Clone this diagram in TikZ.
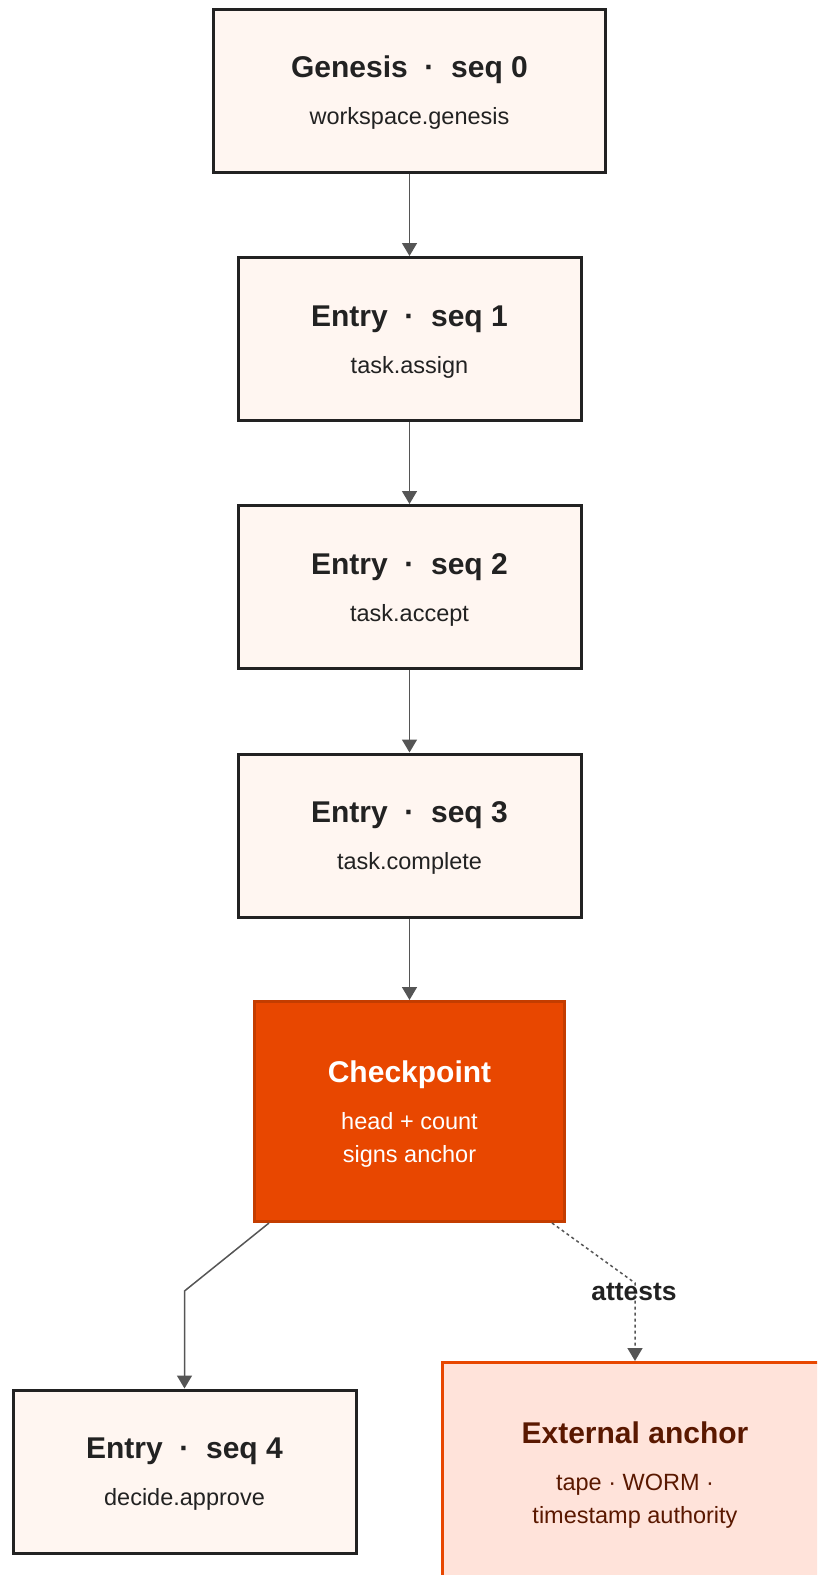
\documentclass[tikz,border=0pt]{standalone}
\usepackage{fontspec}
\setmainfont{Liberation Sans}
\usetikzlibrary{arrows.meta}
\definecolor{cream}{HTML}{FFF6F1}
\definecolor{boxline}{HTML}{222222}
\definecolor{txt}{HTML}{222222}
\definecolor{edgecol}{HTML}{555555}
\definecolor{cpfill}{HTML}{E84700}
\definecolor{cpline}{HTML}{C43D00}
\definecolor{extfill}{HTML}{FFE3DA}
\definecolor{exttxt}{HTML}{5A1800}
\newcommand\mytitle[1]{{\fontsize{30}{35}\selectfont\bfseries\rule{0pt}{26pt}#1}}
\newcommand\subfont{\fontsize{23.5}{33}\selectfont}
\tikzset{
  basebox/.style={line width=3pt, align=center, inner sep=0pt, font=\subfont},
  entrybox/.style={basebox, draw=boxline, fill=cream, text=txt, minimum width=343pt, minimum height=163pt},
  genbox/.style={entrybox, minimum width=392pt},
  cpbox/.style={basebox, draw=cpline, fill=cpfill, text=white, minimum width=310pt, minimum height=220pt},
  extbox/.style={basebox, draw=cpfill, fill=extfill, text=exttxt, minimum width=385pt, minimum height=220pt},
  edge/.style={draw=edgecol, line width=1.5pt, -{Triangle[width=15pt,length=13pt]}},
  dotedge/.style={edge, dash pattern=on 3pt off 3pt},
  elabel/.style={font=\fontsize{26.5}{30}\selectfont\bfseries, text=txt, inner sep=0pt}
}
\begin{document}
\begin{tikzpicture}[x=1pt,y=-1pt]
\useasboundingbox (0,0) rectangle (817,1575);
\clip (0,0) rectangle (817,1575);
\node[genbox] (g) at (409.5,90.5) {\mytitle{Genesis~~·~~seq 0}\\[14pt]workspace.genesis};
\node[entrybox] (e1) at (409.5,339) {\mytitle{Entry~~·~~seq 1}\\[14pt]task.assign};
\node[entrybox] (e2) at (409.5,587) {\mytitle{Entry~~·~~seq 2}\\[14pt]task.accept};
\node[entrybox] (e3) at (409.5,835.5) {\mytitle{Entry~~·~~seq 3}\\[14pt]task.complete};
\node[cpbox] (cp) at (409.5,1111.5) {\mytitle{Checkpoint}\\[14pt]head + count\\signs anchor};
\node[entrybox] (e4) at (184.5,1471.5) {\mytitle{Entry~~·~~seq 4}\\[14pt]decide.approve};
\node[extbox] (ext) at (635,1472.5) {\mytitle{External anchor}\\[14pt]tape · WORM ·\\timestamp authority};
\draw[edge] (g) -- (e1);
\draw[edge] (e1) -- (e2);
\draw[edge] (e2) -- (e3);
\draw[edge] (e3) -- (cp);
\coordinate (b1) at (184.5,1291);
\coordinate (b2) at (635,1283);
\draw[edge] ([xshift=16pt]cp.south west) -- (b1) -- (e4.north);
\draw[dotedge] ([xshift=-14pt]cp.south east) -- (b2) -- (ext.north);
\node[elabel] (lab) at (634,1292) {attests};
\end{tikzpicture}
\end{document}
